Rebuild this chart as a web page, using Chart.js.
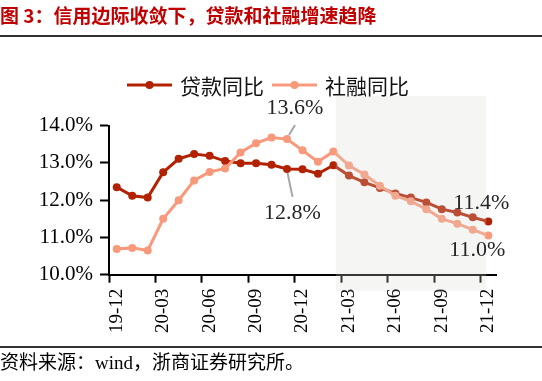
<!DOCTYPE html>
<html><head><meta charset="utf-8">
<script src="https://cdn.jsdelivr.net/npm/chart.js@4/dist/chart.umd.min.js"></script>
<style>html,body{margin:0;padding:0;background:#fff;}canvas{display:block;}</style>
</head><body>
<canvas id="c" width="542" height="381"></canvas>
<script>
const months = ['19-12','20-01','20-02','20-03','20-04','20-05','20-06','20-07','20-08','20-09','20-10','20-11','20-12',
                '21-01','21-02','21-03','21-04','21-05','21-06','21-07','21-08','21-09','21-10','21-11','21-12'];
const tickEvery = 3;
const loanYoY = [12.35,12.12,12.07,12.75,13.11,13.24,13.19,13.05,12.99,12.99,12.95,12.84,12.83,12.71,12.94,12.66,12.48,12.33,12.18,12.07,11.94,11.76,11.67,11.54,11.43];
const tsfYoY  = [10.69,10.72,10.65,11.50,12.00,12.53,12.76,12.85,13.28,13.53,13.68,13.64,13.34,13.03,13.31,12.93,12.69,12.39,12.12,11.97,11.76,11.50,11.37,11.21,11.05];
const seriesNames = ['贷款同比','社融同比'];
const yTicks = [10,11,12,13,14];
const titleText = '图 3：信用边际收敛下，贷款和社融增速趋降';
const sourceText = '资料来源：wind，浙商证券研究所。';
const calloutTexts = ['13.6%','12.8%','11.4%','11.0%'];
const calloutSeries = [1,0,0,1];
const calloutIndex = [11,11,24,24];

const DARK = '#B22200', LIGHT = '#F9997B';
const SERIF = '"Liberation Serif", "Noto Sans CJK SC"';

const decor = {
  id: 'decor',
  afterDatasetsDraw(chart) {
    const {ctx, chartArea} = chart;
    const x = chart.scales.x, y = chart.scales.y;
    const x0 = x.getPixelForValue(14.15), x1 = x.getPixelForValue(23.87);
    const y0 = y.getPixelForValue(14.8), y1 = chartArea.bottom + 16;
    ctx.save();
    ctx.fillStyle = 'rgba(217,217,210,0.25)';
    ctx.fillRect(x0, y0, x1 - x0, y1 - y0);
    ctx.restore();
  },
  afterDraw(chart) {
    const {ctx} = chart;
    const x = chart.scales.x, y = chart.scales.y;
    const data = [loanYoY, tsfYoY];
    ctx.save();
    ctx.font = 'bold 19px "Noto Sans CJK SC"';
    ctx.fillStyle = '#C00000';
    ctx.textBaseline = 'middle';
    ctx.textAlign = 'left';
    ctx.fillText(titleText, 0, 16);
    ctx.fillStyle = '#000';
    ctx.fillRect(0, 35.2, 542, 1.6);
    ctx.fillRect(0, 346.2, 542, 1.6);
    ctx.font = '19px ' + SERIF;
    ctx.fillStyle = '#000';
    ctx.fillText(sourceText, 0, 364);
    const cols = [DARK, LIGHT];
    const lx = [127, 272];
    for (let i = 0; i < 2; i++) {
      ctx.strokeStyle = cols[i];
      ctx.lineWidth = 3;
      ctx.beginPath(); ctx.moveTo(lx[i], 85); ctx.lineTo(lx[i] + 45, 85); ctx.stroke();
      ctx.fillStyle = cols[i];
      ctx.beginPath(); ctx.arc(lx[i] + 22.5, 85, 4, 0, Math.PI * 2); ctx.fill();
      ctx.fillStyle = '#111';
      ctx.font = '21px "Noto Sans CJK SC"';
      ctx.fillText(seriesNames[i], lx[i] + 53, 86);
    }
    const off = [[8,-31],[5.3,44],[-7,-18],[-11,14.5]];
    const px = calloutIndex.map(i => x.getPixelForValue(i));
    const py = calloutIndex.map((i,k) => y.getPixelForValue(data[calloutSeries[k]][i]));
    ctx.strokeStyle = '#A6A6A6';
    ctx.lineWidth = 2;
    ctx.beginPath(); ctx.moveTo(px[0] + 2, py[0] - 4); ctx.lineTo(px[0] + 8, py[0] - 14); ctx.stroke();
    ctx.beginPath(); ctx.moveTo(px[1] + 0.5, py[1] + 4); ctx.lineTo(px[1] + 5.5, py[1] + 28); ctx.stroke();
    ctx.font = '22px ' + SERIF;
    ctx.fillStyle = '#262626';
    ctx.textAlign = 'center';
    for (let k = 0; k < calloutTexts.length; k++) {
      ctx.fillText(calloutTexts[k], px[k] + off[k][0], py[k] + off[k][1]);
    }
    ctx.restore();
  }
};

const tickCol = c => (c.index !== undefined && c.index % tickEvery === 0) ? '#000' : 'rgba(0,0,0,0)';

new Chart(document.getElementById('c').getContext('2d'), {
  type: 'line',
  data: {
    labels: months,
    datasets: [
      {label: seriesNames[0], data: loanYoY, borderColor: DARK, backgroundColor: DARK, pointBackgroundColor: DARK,
       borderWidth: 3, pointRadius: 4, pointHoverRadius: 4, pointBorderWidth: 0, tension: 0, order: 2},
      {label: seriesNames[1], data: tsfYoY, borderColor: LIGHT, backgroundColor: LIGHT, pointBackgroundColor: LIGHT,
       borderWidth: 3, pointRadius: 4, pointHoverRadius: 4, pointBorderWidth: 0, tension: 0, order: 1}
    ]
  },
  options: {
    responsive: false, animation: false, devicePixelRatio: 1,
    layout: {padding: {top: 125.7, left: 0, right: 46, bottom: 36.3}},
    plugins: {legend: {display: false}, tooltip: {enabled: false}, title: {display: false}},
    scales: {
      x: {
        type: 'category', offset: true,
        afterFit(s) { s.height = 70; },
        grid: {offset: true, drawOnChartArea: false, drawTicks: true, tickLength: 8, tickWidth: 2, color: tickCol, tickColor: tickCol},
        border: {display: true, color: '#000', width: 2},
        ticks: {autoSkip: false, minRotation: 90, maxRotation: 90, padding: 6, color: '#000',
                font: {family: SERIF, size: 19},
                callback: (v, i) => i % tickEvery === 0 ? months[i] : ''}
      },
      y: {
        min: 10, max: 14,
        afterFit(s) { s.width = 109; },
        afterBuildTicks(s) { s.ticks = yTicks.map(v => ({value: v})); },
        grid: {drawOnChartArea: false, tickLength: 9, tickWidth: 2, color: '#000'},
        border: {display: true, color: '#000', width: 2},
        ticks: {padding: 7, color: '#000', font: {family: SERIF, size: 21},
                callback: v => v.toFixed(1) + '%'}
      }
    }
  },
  plugins: [decor]
});
</script>
</body></html>
